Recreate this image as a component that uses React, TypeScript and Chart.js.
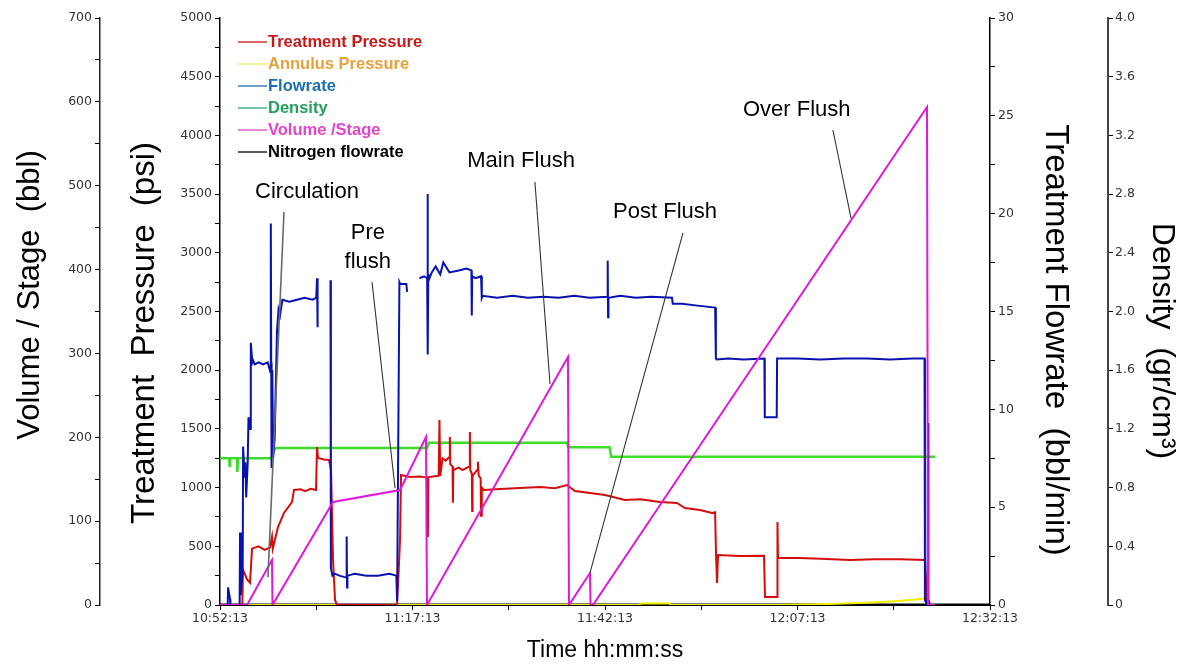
import React, { useEffect, useRef } from 'react';
import { Chart, registerables } from 'chart.js';

Chart.register(...registerables);

// ---------- DATA (time in minutes after 10:52:13) ----------
const timeTickLabels = ['10:52:13', '11:17:13', '11:42:13', '12:07:13', '12:32:13'];

const seriesNames = ['Treatment Pressure', 'Annulus Pressure', 'Flowrate', 'Density', 'Volume /Stage', 'Nitrogen flowrate'];

// Treatment pressure (psi)
const pressTime = [0, 2.9, 2.99, 3.5, 3.9, 4.16, 5.0, 5.8, 6.49, 6.75, 6.85, 7.53, 8.31, 9.35, 9.61, 10.5, 11.04, 11.8, 12.47, 12.6, 12.73, 13.5, 14.16, 14.42, 14.68, 14.94, 15.19, 22.86, 23.0, 23.12, 23.38, 23.51, 24.68, 25.97, 26.88, 26.95, 27.0, 27.05, 28.4, 28.5, 28.6, 28.9, 29.3, 29.8, 29.85, 29.9, 30.2, 30.25, 30.3, 31.0, 31.5, 32.4, 32.45, 32.5, 32.7, 32.75, 32.8, 33.4, 33.5, 33.6, 33.85, 33.9, 34.0, 34.29, 36.36, 38.96, 41.56, 43.5, 45.06, 46.1, 48.05, 50, 52.6, 54.55, 57.14, 59.35, 60.39, 62.34, 63.9, 64.3, 64.42, 64.55, 64.68, 67.53, 70.65, 70.78, 72.34, 72.4, 72.47, 75.32, 78, 81.82, 85, 88.31, 91.56, 91.82, 92.08];
const pressVal = [0, 0, 300, 220, 190, 480, 500, 470, 490, 580, 480, 664, 784, 877, 980, 985, 970, 990, 980, 1346, 1252, 1240, 1235, 1150, 383, 43, 0, 0, 17, 170, 554, 1107, 1090, 1095, 1085, 1085, 580, 1090, 1100, 1576, 1100, 1250, 1230, 1260, 1431, 1200, 1180, 870, 1150, 1170, 1150, 1180, 1474, 1150, 1120, 800, 1100, 1150, 1220, 1100, 1080, 760, 1000, 980, 988, 997, 1005, 995, 1022, 971, 955, 937, 894, 900, 877, 869, 826, 809, 784, 790, 426, 187, 426, 417, 420, 68, 68, 707, 400, 400, 395, 383, 390, 390, 383, 40, 0];

// Annulus pressure (psi)
const annTime = [0, 54.5, 54.6, 56, 58.4, 58.5, 72.5, 76, 80, 84, 88, 90, 91.6, 91.9, 92.3];
const annVal = [0, 0, 12, 15, 12, 0, 0, 4, 10, 20, 35, 45, 55, 30, 0];

// Flowrate (bbl/min)
const flowTime = [0, 1.0, 1.05, 1.3, 1.35, 2.55, 2.6, 2.7, 2.95, 3.0, 3.2, 3.3, 3.4, 3.6, 3.7, 3.9, 4.0, 4.2, 4.3, 4.5, 5.0, 5.6, 6.2, 6.55, 6.6, 6.65, 6.7, 6.8, 6.9, 7.1, 7.4, 7.6, 7.8, 8.1, 9.0, 10.0, 11.0, 12.0, 12.5, 12.6, 12.65, 12.7, 13.5, 14.35, 14.4, 14.6, 14.9, 15.5, 16.4, 16.45, 16.5, 16.55, 17.5, 19.0, 20.5, 22.0, 22.9, 23.0, 23.3, 23.4, 24.2, 24.3, 25.0, 25.9, 26.5, 26.9, 26.95, 27.0, 27.05, 27.1, 27.5, 28.0, 28.6, 29.0, 29.8, 31.0, 32.0, 32.65, 32.7, 32.75, 33.2, 33.9, 34.0, 34.1, 36, 38, 40, 42, 44, 46, 48, 50.3, 50.35, 50.4, 50.45, 52, 54, 56, 58.7, 58.8, 60, 62, 64.3, 64.4, 64.5, 66, 68, 70.7, 70.75, 72.3, 72.35, 75, 78, 81, 84, 87, 90, 91.5, 91.55, 91.6, 91.9, 91.95, 92.0, 92.2];
const flowVal = [0, 0, 0.9, 0.3, 0, 0, 3.7, 0.5, 2.0, 8.1, 6.5, 7.3, 5.5, 7.3, 9.6, 9.0, 13.4, 12.4, 12.5, 12.3, 12.4, 12.3, 12.4, 11.9, 19.5, 12.4, 7.0, 12.0, 7.5, 8.5, 14.0, 15.1, 14.8, 15.6, 15.5, 15.6, 15.7, 15.6, 15.7, 16.7, 14.2, 15.6, null, 16.6, 1.9, 1.5, 1.6, 1.5, 1.4, 3.5, 0.9, 1.5, 1.6, 1.5, 1.5, 1.6, 1.5, 0.2, 16.5, 16.4, 16.4, 16.0, null, 16.7, 16.8, 16.7, 21.0, 12.8, 16.9, 16.6, 17.0, 17.3, 16.9, 17.5, 17.0, 17.1, 17.2, 17.1, 14.8, 16.8, 16.7, 16.8, 15.7, 15.8, 15.7, 15.8, 15.7, 15.75, 15.7, 15.8, 15.7, 15.75, 17.6, 14.7, 15.7, 15.8, 15.7, 15.75, 15.7, 15.4, 15.4, 15.3, 15.2, 12.6, 12.55, 12.6, 12.55, 12.6, 9.6, 9.6, 12.6, 12.6, 12.55, 12.6, 12.6, 12.55, 12.6, 12.6, 0.3, 0.2, 0, 9.3, 0.3, 0];

// Density (gr/cm3)
const densTime = [0, 1.2, 1.25, 1.35, 2.2, 2.25, 2.35, 6.6, 7.2, 26.9, 27.1, 45.1, 45.2, 50.6, 50.8, 92.86];
const densVal = [1.0, 1.0, 0.94, 1.0, 1.0, 0.906, 1.0, 1.0, 1.07, 1.07, 1.105, 1.105, 1.075, 1.075, 1.01, 1.01];

// Volume / stage (bbl)
const volTime = [0, 3.51, 6.75, 6.82, 14.68, 23.38, 26.75, 26.88, 45.19, 45.32, 48.05, 48.12, 48.44, 91.82, 91.95, 92.86];
const volVal = [0, 0, 53.7, 0, 122.8, 137.1, 200.3, 0, 295.7, 0, 38.2, 0, 0, 593.9, 0, 0];

// Nitrogen flowrate (bbl/min)
const nitroTime = [0, 100];
const nitroVal = [0, 0];

// Stage annotations (anchored in time / psi)
const stageLabels = ['Circulation', 'Pre\nflush', 'Main Flush', 'Post Flush', 'Over Flush'];
const stageLabelTime = [11.3, 19.2, 39.1, 57.8, 74.9];
const stageLabelPsi = [3518, 3045, 3782, 3348, 4216];
const leaderFromTime = [8.31, 19.74, 40.9, 60.13, 79.6];
const leaderFromPsi = [3348, 2751, 3603, 3169, 4046];
const leaderToTime = [6.23, 22.73, 42.86, 48.05, 81.95];
const leaderToPsi = [238, 997, 1882, 273, 3296];

// Axis titles
const axisTitleText = ['Volume / Stage  (bbl)', 'Treatment  Pressure  (psi)', 'Treatment Flowrate  (bbl/min)', 'Density  (gr/cm³)'];

// ---------- STYLE ----------
const lineColors = ['#d40d0d', '#f2ee00', '#0812b0', '#3cdc28', '#e018d8', '#000000'];
const legendTextColors = ['#c81818', '#e6a23a', '#1c6fb2', '#20a058', '#e444c8', '#000000'];
const legendLineColors = ['#c81818', '#f2ea60', '#1c6fb2', '#22a878', '#d848c0', '#000000'];
const FONT = '"Liberation Sans", Arial, sans-serif';
const TICK_FONT = { family: '"DejaVu Sans", Verdana, sans-serif', size: 12.5 };

const pts = (t: number[], v: (number | null)[]) => t.map((x, i) => ({ x, y: v[i] }));

const overlayPlugin = {
  id: 'overlay',
  afterDatasetsDraw(chart: any) {
    const { ctx, chartArea, scales } = chart;
    const xs = scales.x;
    const ys = scales.yP;
    ctx.save();
    // leaders
    for (let i = 0; i < stageLabels.length; i++) {
      ctx.beginPath();
      ctx.moveTo(xs.getPixelForValue(leaderFromTime[i]), ys.getPixelForValue(leaderFromPsi[i]));
      ctx.lineTo(xs.getPixelForValue(leaderToTime[i]), ys.getPixelForValue(leaderToPsi[i]));
      ctx.strokeStyle = i === 0 ? '#6a6a6a' : '#333';
      ctx.lineWidth = i === 0 ? 1.6 : 1.1;
      ctx.stroke();
    }
    // labels
    ctx.font = '22px ' + FONT;
    ctx.fillStyle = '#000';
    ctx.textAlign = 'center';
    ctx.textBaseline = 'middle';
    for (let i = 0; i < stageLabels.length; i++) {
      const lines = stageLabels[i].split('\n');
      const cx = xs.getPixelForValue(stageLabelTime[i]);
      const cy = ys.getPixelForValue(stageLabelPsi[i]);
      lines.forEach((ln, j) => ctx.fillText(ln, cx, cy + (j - (lines.length - 1) / 2) * 29));
    }
    // legend
    ctx.font = 'bold 16.5px ' + FONT;
    ctx.textAlign = 'left';
    const lx = chartArea.left + 18;
    const ly = chartArea.top + 24;
    seriesNames.forEach((name, i) => {
      const y = ly + i * 22;
      ctx.beginPath();
      ctx.moveTo(lx, y);
      ctx.lineTo(lx + 29, y);
      ctx.strokeStyle = legendLineColors[i];
      ctx.lineWidth = 1.3;
      ctx.stroke();
      ctx.fillStyle = legendTextColors[i];
      ctx.fillText(name, lx + 30, y);
    });
    // axis titles
    const titleSpecs = [
      { x: scales.yV.left + 30, y: chartArea.top + 277, rot: -Math.PI / 2, size: 31 },
      { x: scales.yP.left + 45, y: chartArea.top + 315, rot: -Math.PI / 2, size: 33 },
      { x: scales.yQ.right - 53, y: chartArea.top + 322, rot: Math.PI / 2, size: 33 },
      { x: scales.yD.right - 26, y: chartArea.top + 323, rot: Math.PI / 2, size: 32 },
    ];
    ctx.fillStyle = '#000';
    ctx.textAlign = 'center';
    ctx.textBaseline = 'middle';
    titleSpecs.forEach((s, i) => {
      ctx.save();
      ctx.translate(s.x, s.y);
      ctx.rotate(s.rot);
      ctx.font = s.size + 'px ' + FONT;
      ctx.fillText(axisTitleText[i], 0, 0);
      ctx.restore();
    });
    ctx.restore();
  },
};

const yGrid = { display: true, drawOnChartArea: false, drawTicks: true, tickLength: 5, color: '#000', lineWidth: 1 };

export default function App() {
  const ref = useRef<HTMLCanvasElement>(null);
  useEffect(() => {
    const mk = (i: number, t: number[], v: (number | null)[], axis: string, order: number, width = 2) => ({
      label: seriesNames[i],
      data: pts(t, v),
      yAxisID: axis,
      borderColor: lineColors[i],
      backgroundColor: lineColors[i],
      borderWidth: width,
      pointRadius: 0,
      tension: 0,
      spanGaps: false,
      order,
    });
    const chart = new Chart(ref.current as HTMLCanvasElement, {
      type: 'line',
      data: {
        datasets: [
          mk(0, pressTime, pressVal, 'yP', 3),
          mk(1, annTime, annVal, 'yP', 5),
          mk(2, flowTime, flowVal, 'yQ', 2),
          mk(3, densTime, densVal, 'yD', 4, 2.5),
          mk(4, volTime, volVal, 'yV', 1),
          mk(5, nitroTime, nitroVal, 'yQ', 6, 3),
        ] as any,
      },
      options: {
        animation: false,
        responsive: true,
        maintainAspectRatio: false,
        events: [],
        layout: { padding: { top: 18, left: 0, right: 0, bottom: 0 } },
        plugins: { legend: { display: false }, tooltip: { enabled: false } },
        scales: {
          x: {
            type: 'linear',
            position: 'bottom',
            min: 0,
            max: 100,
            ticks: {
              stepSize: 12.5,
              autoSkip: false,
              maxRotation: 0,
              padding: 1,
              color: '#333',
              font: TICK_FONT,
              callback: (v: any) => (Number(v) % 25 === 0 ? timeTickLabels[Number(v) / 25] : ''),
            },
            grid: { ...yGrid },
            border: { display: true, color: '#000', width: 2 },
            title: { display: true, text: 'Time hh:mm:ss', color: '#000', font: { family: FONT, size: 23 }, padding: { top: 0, bottom: 0 } },
            afterFit: (s: any) => { s.height = 59; },
          },
          yV: {
            type: 'linear',
            position: 'left',
            weight: 2,
            min: 0,
            max: 700,
            ticks: { stepSize: 50, autoSkip: false, padding: 3, color: '#333', font: TICK_FONT, callback: (v: any) => (Number(v) % 100 === 0 ? String(v) : '') },
            grid: { ...yGrid },
            border: { display: true, color: '#222', width: 1.5 },
            title: { display: false },
            afterFit: (s: any) => { s.width = 100; },
          },
          yP: {
            type: 'linear',
            position: 'left',
            weight: 1,
            min: 0,
            max: 5000,
            ticks: { stepSize: 250, autoSkip: false, padding: 3, color: '#333', font: TICK_FONT, callback: (v: any) => (Number(v) % 500 === 0 ? String(v) : '') },
            grid: { ...yGrid },
            border: { display: true, color: '#000', width: 1.5 },
            title: { display: false },
            afterFit: (s: any) => { s.width = 120; },
          },
          yQ: {
            type: 'linear',
            position: 'right',
            weight: 1,
            min: 0,
            max: 30,
            ticks: { stepSize: 2.5, autoSkip: false, padding: 3, color: '#333', font: TICK_FONT, callback: (v: any) => (Number(v) % 5 === 0 ? String(v) : '') },
            grid: { ...yGrid },
            border: { display: true, color: '#000', width: 1.5 },
            title: { display: false },
            afterFit: (s: any) => { s.width = 118; },
          },
          yD: {
            type: 'linear',
            position: 'right',
            weight: 2,
            min: 0,
            max: 4,
            ticks: { stepSize: 0.4, autoSkip: false, padding: 2, color: '#333', font: TICK_FONT, callback: (v: any) => (Number(v) === 0 ? '0' : Number(v).toFixed(1)) },
            grid: { ...yGrid },
            border: { display: true, color: '#444', width: 2 },
            title: { display: false },
            afterFit: (s: any) => { s.width = 80; },
          },
        },
      } as any,
      plugins: [overlayPlugin],
    });
    return () => chart.destroy();
  }, []);
  return (
    <div style={{ position: 'fixed', left: 0, top: 0, width: 1188, height: 664, background: '#fff' }}>
      <canvas ref={ref} />
    </div>
  );
}
